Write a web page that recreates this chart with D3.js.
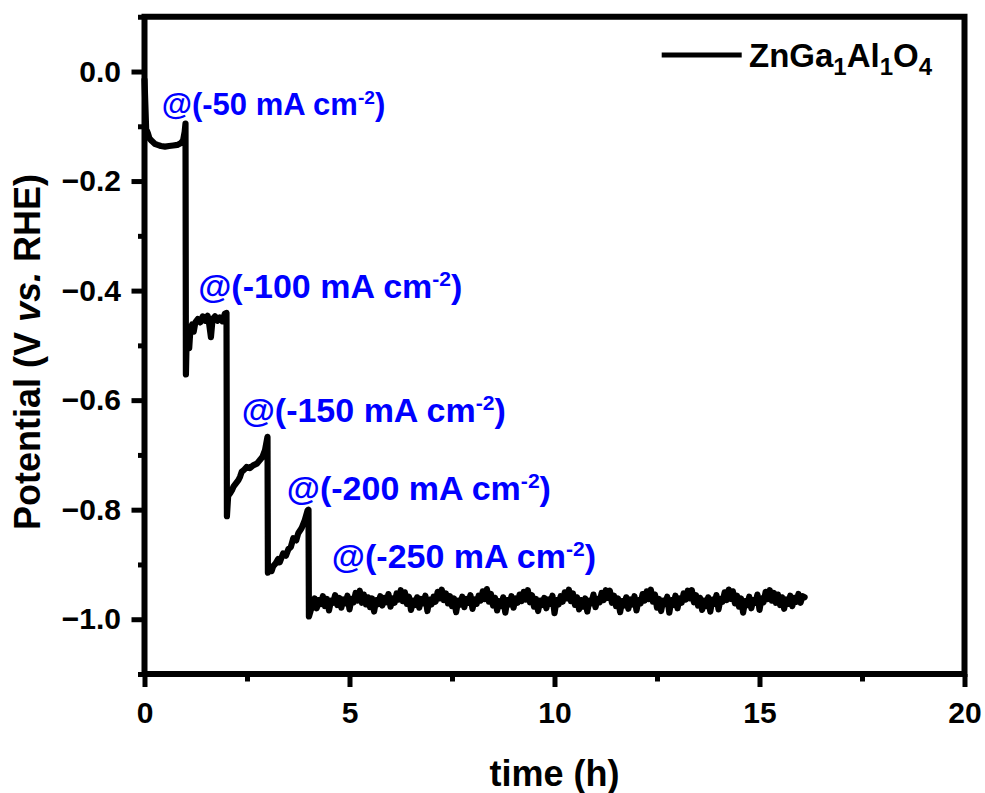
<!DOCTYPE html>
<html>
<head>
<meta charset="utf-8">
<script src="https://cdn.jsdelivr.net/npm/d3@7"></script>
<style>
body { margin: 0; background: #fff; }
text { font-family: "Liberation Sans", Arial, sans-serif; font-weight: bold; }
</style>
</head>
<body>
<div id="chart"></div>
<script>
// chronopotentiometry steps: -50 .. -200 mA cm-2 (time in h, potential in V vs RHE)
var stepTimes = [
    0.00, 0.02, 0.04, 0.08, 0.12, 0.18, 0.25, 0.32, 0.40, 0.50, 0.60, 0.70, 0.80, 0.88, 0.94, 0.98, 1.00,
    1.01, 1.03, 1.06, 1.09, 1.12, 1.16, 1.20, 1.24, 1.30, 1.36, 1.42, 1.48, 1.54, 1.58, 1.62, 1.66, 1.72, 1.78, 1.84, 1.90, 1.96, 2.00,
    2.01, 2.04, 2.09, 2.13, 2.17, 2.23, 2.29, 2.33, 2.37, 2.43, 2.49, 2.57, 2.65, 2.74, 2.82, 2.88, 2.94, 3.00,
    3.01, 3.06, 3.10, 3.14, 3.20, 3.26, 3.30, 3.38, 3.45, 3.51, 3.57, 3.63, 3.70, 3.75, 3.83, 3.91, 3.98, 4.00,
    4.01, 4.05
];
var stepPotentials = [
    -0.015, -0.060, -0.105, -0.112, -0.122, -0.127, -0.132, -0.134, -0.136, -0.137, -0.136, -0.135, -0.134, -0.131, -0.126, -0.110, -0.095,
    -0.553, -0.480, -0.470, -0.505, -0.470, -0.462, -0.475, -0.458, -0.452, -0.458, -0.447, -0.455, -0.446, -0.462, -0.485, -0.452, -0.447, -0.455, -0.449, -0.456, -0.442, -0.441,
    -0.812, -0.775, -0.770, -0.765, -0.758, -0.752, -0.746, -0.740, -0.731, -0.727, -0.722, -0.724, -0.719, -0.716, -0.709, -0.703, -0.691, -0.667,
    -0.915, -0.905, -0.912, -0.903, -0.898, -0.890, -0.896, -0.880, -0.884, -0.872, -0.868, -0.852, -0.856, -0.843, -0.834, -0.819, -0.801, -0.800,
    -0.995, -0.985
];

// -250 mA cm-2 hold, logged every 0.05 h from 4.1 h to 16.1 h
var steadyStart = 4.1;
var steadyStep = 0.05;
var steadyPotentials = [
    -0.975, -0.962, -0.980, -0.965, -0.972, -0.958, -0.976, -0.963, -0.984, -0.966, -0.970, -0.956, -0.974, -0.961, -0.979, -0.964, -0.971, -0.957, -0.982, -0.963,
    -0.969, -0.952, -0.966, -0.948, -0.970, -0.955, -0.973, -0.960, -0.978, -0.962, -0.986, -0.965, -0.972, -0.958, -0.975, -0.961, -0.969, -0.954, -0.977, -0.962,
    -0.970, -0.953, -0.964, -0.947, -0.967, -0.951, -0.972, -0.959, -0.983, -0.966, -0.974, -0.960, -0.979, -0.963, -0.971, -0.957, -0.985, -0.964, -0.973, -0.959,
    -0.968, -0.950, -0.962, -0.946, -0.965, -0.953, -0.971, -0.958, -0.976, -0.962, -0.987, -0.966, -0.973, -0.959, -0.978, -0.963, -0.970, -0.956, -0.981, -0.964,
    -0.972, -0.957, -0.966, -0.949, -0.963, -0.945, -0.968, -0.954, -0.975, -0.961, -0.984, -0.967, -0.976, -0.960, -0.988, -0.965, -0.973, -0.958, -0.979, -0.962,
    -0.970, -0.955, -0.967, -0.950, -0.964, -0.947, -0.969, -0.956, -0.977, -0.963, -0.985, -0.966, -0.974, -0.961, -0.980, -0.964, -0.972, -0.957, -0.989, -0.965,
    -0.973, -0.958, -0.968, -0.951, -0.962, -0.946, -0.967, -0.953, -0.974, -0.960, -0.982, -0.965, -0.977, -0.962, -0.986, -0.966, -0.971, -0.955, -0.978, -0.963,
    -0.969, -0.952, -0.965, -0.947, -0.961, -0.948, -0.970, -0.957, -0.976, -0.962, -0.987, -0.967, -0.975, -0.960, -0.981, -0.964, -0.973, -0.958, -0.984, -0.965,
    -0.971, -0.954, -0.966, -0.949, -0.963, -0.946, -0.968, -0.955, -0.979, -0.963, -0.985, -0.966, -0.972, -0.959, -0.988, -0.965, -0.974, -0.957, -0.980, -0.962,
    -0.970, -0.953, -0.964, -0.948, -0.962, -0.947, -0.969, -0.956, -0.975, -0.961, -0.983, -0.966, -0.976, -0.960, -0.986, -0.964, -0.972, -0.956, -0.982, -0.963,
    -0.968, -0.951, -0.965, -0.946, -0.963, -0.949, -0.971, -0.957, -0.977, -0.962, -0.988, -0.967, -0.974, -0.959, -0.980, -0.965, -0.970, -0.955, -0.983, -0.962,
    -0.969, -0.950, -0.963, -0.947, -0.966, -0.952, -0.970, -0.955, -0.974, -0.960, -0.981, -0.964, -0.972, -0.957, -0.976, -0.961, -0.968, -0.954, -0.970, -0.958,
    -0.960
];

var xTicks = [0, 5, 10, 15, 20];
var xMinorTicks = [2.5, 7.5, 12.5, 17.5];
var yTicks = [0.0, -0.2, -0.4, -0.6, -0.8, -1.0];
var yMinorTicks = [0.1, -0.1, -0.3, -0.5, -0.7, -0.9, -1.1];

var labelCurrents = ["-50", "-100", "-150", "-200", "-250"];
var labelTimes = [0.42, 1.31, 2.37, 3.47, 4.57];
var labelPotentials = [-0.0795, -0.414, -0.640, -0.783, -0.907];
var labelSizes = [31, 34, 34, 34, 34];

var width = 985, height = 793;

var svg = d3.select("#chart").append("svg")
    .attr("width", width)
    .attr("height", height);

var x = d3.scaleLinear().domain([0, 20]).range([144.5, 964.5]);
var y = d3.scaleLinear().domain([-1.1, 0.1]).range([674, 16.75]);

var points = stepTimes.map(function(t, i) { return [t, stepPotentials[i]]; })
    .concat(steadyPotentials.map(function(v, i) { return [steadyStart + i * steadyStep, v]; }));

var line = d3.line()
    .x(function(d) { return x(d[0]); })
    .y(function(d) { return y(d[1]); });

svg.append("path")
    .datum(points)
    .attr("d", line)
    .style("fill", "none")
    .style("stroke", "black")
    .style("stroke-width", 6.2)
    .style("stroke-linejoin", "round")
    .style("stroke-linecap", "round");

// axes, ticks outward on left and bottom only
var xAxis = svg.append("g")
    .attr("transform", "translate(0," + y(-1.1) + ")")
    .call(d3.axisBottom(x).tickValues(xTicks).tickSizeInner(13).tickSizeOuter(0).tickPadding(15).tickFormat(d3.format("d")));
var xMinor = svg.append("g")
    .attr("transform", "translate(0," + y(-1.1) + ")")
    .call(d3.axisBottom(x).tickValues(xMinorTicks).tickSizeInner(7.5).tickSizeOuter(0).tickFormat(""));
var yAxis = svg.append("g")
    .attr("transform", "translate(" + x(0) + ",0)")
    .call(d3.axisLeft(y).tickValues(yTicks).tickSizeInner(13).tickSizeOuter(0).tickPadding(10.5).tickFormat(d3.format(".1f")));
var yMinor = svg.append("g")
    .attr("transform", "translate(" + x(0) + ",0)")
    .call(d3.axisLeft(y).tickValues(yMinorTicks).tickSizeInner(6.5).tickSizeOuter(0).tickFormat(""));

[xAxis, xMinor, yAxis, yMinor].forEach(function(g) {
    g.select(".domain").remove();
    g.selectAll(".tick line").style("stroke", "black").style("stroke-width", 5);
    g.selectAll(".tick text")
        .style("font-family", "'Liberation Sans', Arial, sans-serif")
        .style("font-weight", "bold")
        .style("font-size", "30px")
        .style("fill", "black");
});

svg.append("rect")
    .attr("x", x(0))
    .attr("y", y(0.1))
    .attr("width", x(20) - x(0))
    .attr("height", y(-1.1) - y(0.1))
    .style("fill", "none")
    .style("stroke", "black")
    .style("stroke-width", 6);

// axis titles
svg.append("text")
    .attr("x", (x(0) + x(20)) / 2)
    .attr("y", 786)
    .attr("text-anchor", "middle")
    .style("font-size", "36px")
    .text("time (h)");

var yTitle = svg.append("text")
    .attr("transform", "translate(40,352) rotate(-90)")
    .attr("text-anchor", "middle")
    .style("font-size", "36px");
yTitle.append("tspan").text("Potential (V ");
yTitle.append("tspan").style("font-style", "italic").text("vs.");
yTitle.append("tspan").text(" RHE)");

// current density labels
labelCurrents.forEach(function(c, i) {
    var t = svg.append("text")
        .attr("x", x(labelTimes[i]))
        .attr("y", y(labelPotentials[i]))
        .style("font-size", labelSizes[i] + "px")
        .style("fill", "#0000ff");
    var shift = Math.round(labelSizes[i] * 0.36);
    t.append("tspan").text("@(" + c + " mA cm");
    t.append("tspan").attr("dy", -shift).style("font-size", "0.62em").text("-2");
    t.append("tspan").attr("dy", shift).text(")");
});

// legend
svg.append("line")
    .attr("x1", 661.7).attr("x2", 741.7)
    .attr("y1", 55).attr("y2", 55)
    .style("stroke", "black")
    .style("stroke-width", 5);

var leg = svg.append("text")
    .attr("x", 749)
    .attr("y", 66.7)
    .style("font-size", "33px");
var legParts = [["ZnGa", false], ["1", true], ["Al", false], ["1", true], ["O", false], ["4", true]];
legParts.forEach(function(p, i) {
    var prevSub = i > 0 && legParts[i - 1][1];
    var ts = leg.append("tspan").text(p[0]);
    if (p[1]) ts.attr("dy", 8).style("font-size", "24px");
    else if (prevSub) ts.attr("dy", -8);
});
</script>
</body>
</html>
